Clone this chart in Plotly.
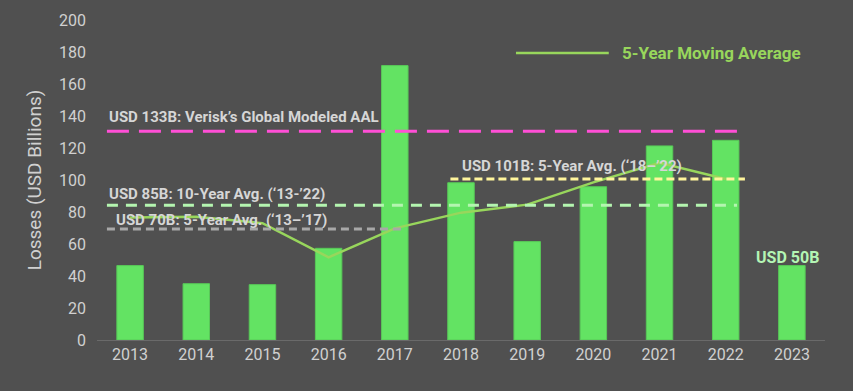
import plotly.graph_objects as go

years = ["2013", "2014", "2015", "2016", "2017", "2018", "2019", "2020", "2021", "2022", "2023"]
losses = [46.5, 35.2, 34.6, 57.3, 171.5, 98.3, 61.5, 95.8, 121.3, 124.8, 46.5]
moving_avg = [76.5, 77, 73, 51.7, 69.8, 79.6, 84.6, 98.5, 110.8, 100.6]

ref_labels = ["USD 133B: Verisk\u2019s Global Modeled AAL",
              "USD 85B: 10-Year Avg. (\u201813-\u201922)",
              "USD 70B: 5-Year Avg. (\u201813\u2013\u201917)",
              "USD 101B: 5-Year Avg. (\u201818\u2013\u201922)"]
ref_values = [130.5, 84.2, 69.4, 100.6]
ref_start = [-0.35, -0.35, -0.35, 4.84]
ref_end = [9.18, 9.17, 4.1, 9.29]
ref_colors = ["#ff4fd6", "#b4f5b0", "#a8a8a8", "#fff59c"]
ref_dash = ["22px,10px", "11px,8px", "8px,5px", "8px,4px"]
label_x = [-0.35, -0.35, -0.24, 4.99]
label_y = [139.4, 91.0, 75.0, 108.8]

bg = "#505050"
font = "Roboto"

fig = go.Figure()
fig.add_trace(go.Bar(x=years, y=losses, width=0.4,
                     marker=dict(color="#63e363", line=dict(color="#58c858", width=1)),
                     showlegend=False))
fig.add_trace(go.Scatter(x=years[:len(moving_avg)], y=moving_avg, mode="lines",
                         line=dict(color="#98d65c", width=2.5), showlegend=False))

for v, s, e, c, d in zip(ref_values, ref_start, ref_end, ref_colors, ref_dash):
    fig.add_shape(type="line", xref="x", yref="y", x0=s, x1=e, y0=v, y1=v,
                  line=dict(color=c, width=3, dash=d))

for t, x, y in zip(ref_labels, label_x, label_y):
    fig.add_annotation(x=x, y=y, xref="x", yref="y", text="<b>" + t + "</b>",
                       showarrow=False, xanchor="left", yanchor="middle",
                       font=dict(family=font, size=15, color="#d6d6d6"))

fig.add_annotation(x=9.93, y=51.4, xref="x", yref="y", text="<b>USD 50B</b>",
                   showarrow=False, xanchor="center", yanchor="middle",
                   font=dict(family=font, size=16, color="#b4f5b4"))

# legend
fig.add_shape(type="line", xref="paper", yref="paper", x0=0.5755, x1=0.703, y0=0.897, y1=0.897,
              line=dict(color="#98d65c", width=2.5))
fig.add_annotation(x=0.718, y=0.897, xref="paper", yref="paper", text="<b>5-Year Moving Average</b>",
                   showarrow=False, xanchor="left", yanchor="middle",
                   font=dict(family=font, size=17, color="#98d65c"))

fig.update_layout(
    width=853, height=391,
    margin=dict(l=97, r=28, t=20, b=51),
    paper_bgcolor=bg, plot_bgcolor=bg,
    font=dict(family=font, color="#d0d0d0"),
    showlegend=False,
    bargap=0.6,
)
fig.update_xaxes(type="category", showgrid=False, showline=True, linecolor="#6a6a6a", linewidth=1,
                 tickfont=dict(size=16, color="#d0d0d0"), ticks="", range=[-0.5, 10.5])
fig.update_yaxes(range=[0, 200], dtick=20, showgrid=False, zeroline=False, showline=False,
                 tickfont=dict(size=16, color="#d0d0d0"), ticks="", ticklabelstandoff=10,
                 title=dict(text="Losses (USD Billions)", font=dict(size=19, color="#d0d0d0"), standoff=12))

fig.write_html("out.html", config={"displayModeBar": False},
               post_script="document.body.style.margin='0';document.body.style.background='#505050';")
